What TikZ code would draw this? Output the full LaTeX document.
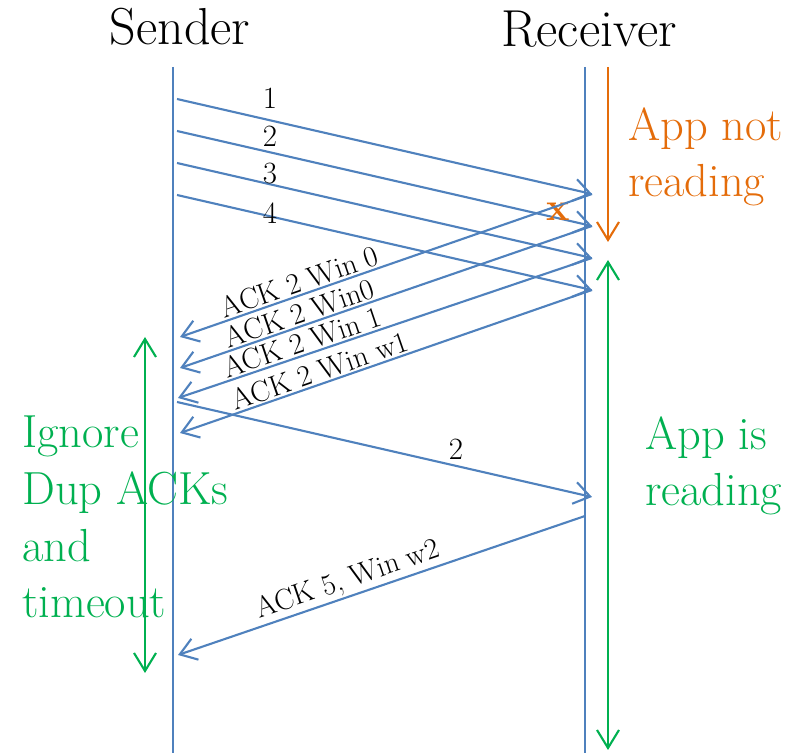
\documentclass[tikz,border=0pt]{standalone}
\usetikzlibrary{arrows.meta}
\definecolor{azul}{RGB}{79,129,189}
\definecolor{naranja}{RGB}{228,108,10}
\definecolor{verde}{RGB}{0,176,80}
\begin{document}
\begin{tikzpicture}[x=0.025cm, y=-0.025cm,
mensaje/.style={azul, line width=1.5pt, -{Straight Barb[length=4mm,width=5.5mm]}},
linea/.style={azul, line width=0.9pt},
periodo/.style={line width=1.5pt, {Straight Barb[length=4.5mm,width=5.5mm]}-{Straight Barb[length=4.5mm,width=5.5mm]}}]%escala en pixeles, y hacia abajo
\tikzstyle{titulo}=[font=\fontsize{37}{44}\selectfont, inner sep=0pt, anchor=base]% Sender y Receiver
\tikzstyle{etiq}=[font=\fontsize{22}{26}\selectfont, inner sep=0pt]% numero de segmento
\tikzstyle{ack}=[font=\fontsize{21}{24}\selectfont, text=black, inner sep=1pt, above, sloped]% texto de los ACK
\tikzstyle{nota}=[font=\fontsize{33}{40.5}\selectfont, inner sep=0pt, align=left, anchor=base west]% textos grandes, base en la ultima linea
\useasboundingbox (0,0) rectangle (804,753);
\node[titulo] (emisor) at (180,45) {Sender};
\node[titulo] (receptor) at (589,47) {Receiver};
\coordinate (eTop) at (173,67); \coordinate (eBot) at (173,753);% linea del emisor
\coordinate (rTop) at (585,67); \coordinate (rBot) at (585,753);% linea del receptor
\draw[linea] (eTop) -- (eBot);
\draw[linea] (rTop) -- (rBot);
% segmentos 1 a 4
\coordinate (s1) at (177,99);  \coordinate (r1) at (592,194);
\coordinate (s2) at (177,131); \coordinate (r2) at (592,226);
\coordinate (s3) at (177,163); \coordinate (r3) at (592,258);
\coordinate (s4) at (177,195); \coordinate (r4) at (592,290);
\draw[mensaje] (s1) -- (r1);
\draw[mensaje] (s2) -- (r2);
\draw[mensaje] (s3) -- (r3);
\draw[mensaje] (s4) -- (r4);
\node[etiq] (n1) at (270,98) {1};
\node[etiq] (n2) at (270,136) {2};
\node[etiq] (n3) at (270,174) {3};
\node[etiq] (n4) at (270,213) {4};
\node[font=\fontsize{28}{30}\selectfont\bfseries, text=naranja, inner sep=0pt] (perdido) at (558,212) {x};
% ACK duplicados
\coordinate (a1) at (180,337);
\coordinate (a2) at (180,368);
\coordinate (a3) at (178,398);
\coordinate (a4) at (180,433);
\draw[mensaje] (r1) -- node[ack, pos=0.70] (k1) {ACK 2 Win 0} (a1);
\draw[mensaje] (r2) -- node[ack, pos=0.70] (k2) {ACK 2 Win0} (a2);
\draw[mensaje] (r3) -- node[ack, pos=0.69] (k3) {ACK 2 Win 1} (a3);
\draw[mensaje] (r4) -- node[ack, pos=0.65] (k4) {ACK 2 Win w1} (a4);
% retransmision
\coordinate (s5) at (177,402); \coordinate (r5) at (592,497);
\draw[mensaje] (s5) -- (r5);
\node[etiq] (n5) at (456,449) {2};
\coordinate (r6) at (585,516); \coordinate (a6) at (178,655);
\draw[mensaje] (r6) -- node[ack, pos=0.57] (k6) {ACK 5, Win w2} (a6);
% estados de la aplicacion
\coordinate (oTop) at (608,67); \coordinate (oBot) at (608,242);
\draw[naranja, line width=1.5pt, -{Straight Barb[length=4.5mm,width=5.5mm]}] (oTop) -- (oBot);
\node[nota, text=naranja] (noLee) at (628,197) {App not\\reading};
\coordinate (vTop) at (608,260); \coordinate (vBot) at (608,750);
\draw[periodo, verde] (vTop) -- (vBot);
\node[nota, text=verde] (siLee) at (645,506) {App is\\reading};
\coordinate (iTop) at (145,337); \coordinate (iBot) at (145,673);
\draw[periodo, verde] (iTop) -- (iBot);
\node[nota, text=verde] (ignora) at (22,618) {Ignore\\Dup ACKs\\and\\timeout};
\end{tikzpicture}
\end{document}
